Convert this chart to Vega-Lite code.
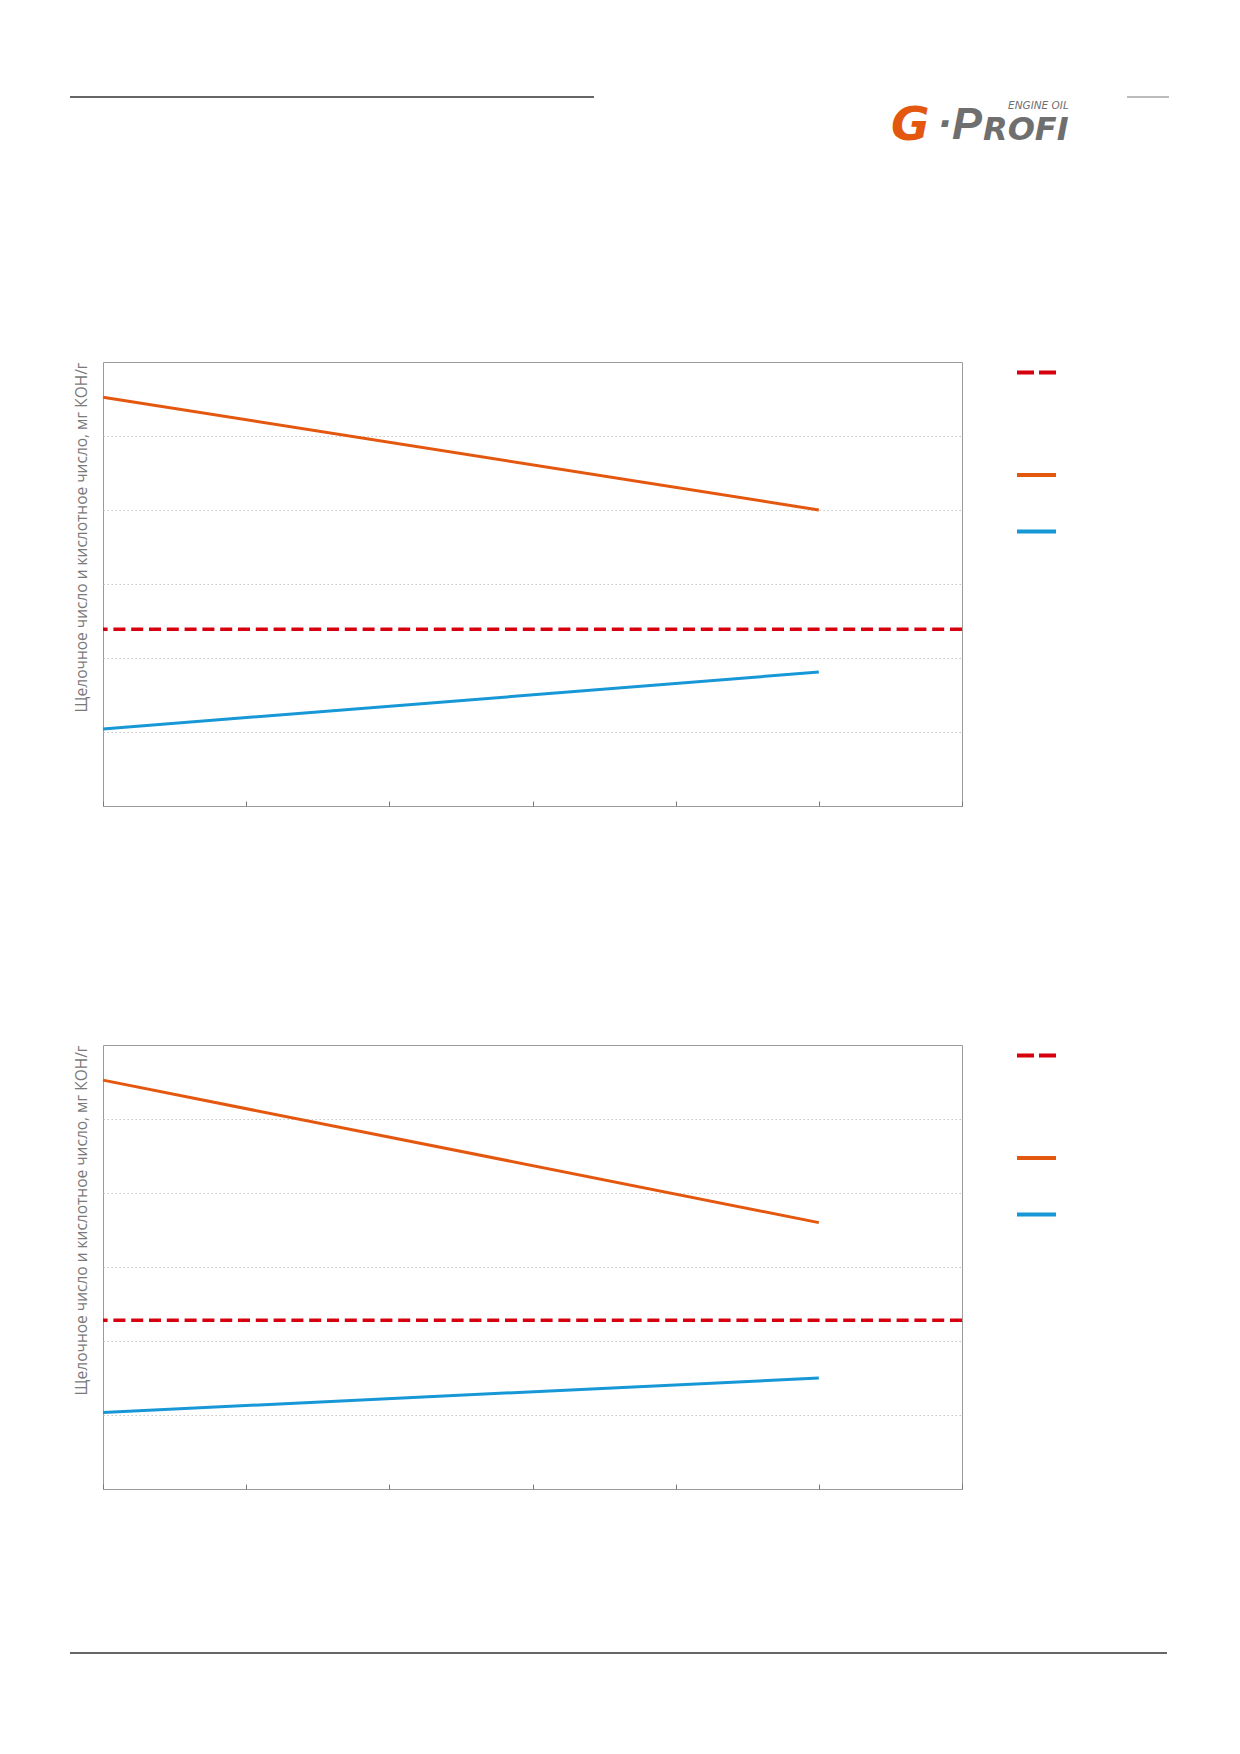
{
  "$schema": "https://vega.github.io/schema/vega-lite/v6.json",
  "padding": {"left": 69, "top": 90, "right": 0, "bottom": 0},
  "bounds": "flush",
  "spacing": 239,
  "resolve": {"legend": {"color": "independent"}},
  "config": {
    "background": "white",
    "font": "Open Sans",
    "view": {"stroke": null},
    "legend": {
      "orient": "none",
      "legendX": 912,
      "legendY": -11,
      "padding": 0,
      "title": null,
      "symbolType": "stroke",
      "symbolSize": 1521,
      "symbolStrokeWidth": 4,
      "rowPadding": 23.5,
      "labelFontSize": 12,
      "labelBaseline": "top",
      "labelColor": "white",
      "gridAlign": "each"
    }
  },
  "datasets": {
    "lines": [
      {"chart": 1, "series": "Щелочное число", "x": 0, "y": 11.05},
      {"chart": 1, "series": "Щелочное число", "x": 5, "y": 8.0},
      {"chart": 1, "series": "Кислотное число", "x": 0, "y": 2.08},
      {"chart": 1, "series": "Кислотное число", "x": 5, "y": 3.62},
      {"chart": 2, "series": "Щелочное число", "x": 0, "y": 11.05},
      {"chart": 2, "series": "Щелочное число", "x": 5, "y": 7.2},
      {"chart": 2, "series": "Кислотное число", "x": 0, "y": 2.07},
      {"chart": 2, "series": "Кислотное число", "x": 5, "y": 3.0}
    ],
    "limits": [
      {"chart": 1, "series": "Предел", "y": 4.78},
      {"chart": 2, "series": "Предел", "y": 4.56}
    ]
  },
  "vconcat": [
    {
      "width": 859,
      "height": 33,
      "data": {"values": [{}]},
      "layer": [
        {
          "mark": {"type": "rule", "color": "#666666", "strokeWidth": 2},
          "encoding": {
            "x": {"datum": 70, "type": "quantitative", "scale": {"domain": [103, 962], "nice": false, "zero": false}, "axis": null},
            "x2": {"datum": 594},
            "y": {"datum": 97, "type": "quantitative", "scale": {"domain": [90, 123], "nice": false, "zero": false, "reverse": true}, "axis": null}
          }
        },
        {
          "mark": {"type": "rule", "color": "#a6a6a6", "strokeWidth": 1.5},
          "encoding": {
            "x": {"datum": 1127, "type": "quantitative"},
            "x2": {"datum": 1169},
            "y": {"datum": 97, "type": "quantitative"}
          }
        },
        {
          "mark": {"type": "text", "text": "G", "font": "DejaVu Sans", "fontSize": 47, "fontStyle": "italic", "fontWeight": "bold", "color": "#e4570f", "align": "left", "baseline": "alphabetic"},
          "encoding": {
            "x": {"datum": 891, "type": "quantitative"},
            "y": {"datum": 140, "type": "quantitative"}
          }
        },
        {
          "mark": {"type": "text", "text": "·P", "font": "Liberation Sans", "fontSize": 45, "fontStyle": "italic", "fontWeight": "bold", "color": "#6f6f6f", "align": "left", "baseline": "alphabetic"},
          "encoding": {
            "x": {"datum": 937, "type": "quantitative"},
            "y": {"datum": 139, "type": "quantitative"}
          }
        },
        {
          "mark": {"type": "text", "text": "ROFI", "font": "DejaVu Sans", "fontSize": 32, "fontStyle": "italic", "fontWeight": "bold", "color": "#6f6f6f", "align": "left", "baseline": "alphabetic"},
          "encoding": {
            "x": {"datum": 983, "type": "quantitative"},
            "y": {"datum": 140, "type": "quantitative"}
          }
        },
        {
          "mark": {"type": "text", "text": "ENGINE OIL", "font": "DejaVu Sans", "fontSize": 10.5, "fontStyle": "italic", "color": "#6f6f6f", "align": "left", "baseline": "alphabetic"},
          "encoding": {
            "x": {"datum": 1008, "type": "quantitative"},
            "y": {"datum": 109, "type": "quantitative"}
          }
        }
      ]
    },
    {
      "width": 859,
      "height": 444,
      "view": {"stroke": "#9a9a9a", "strokeWidth": 1},
      "encoding": {
        "y": {
          "field": "y", "type": "quantitative",
          "scale": {"domain": [0, 12]},
          "axis": {"values": [2, 4, 6, 8, 10], "labels": false, "ticks": false, "domain": false, "grid": true, "gridDash": [1.5, 2.5], "gridColor": "#c8c8c8", "title": "Щелочное число и кислотное число, мг КОН/г", "titleAnchor": "end", "titleColor": "#7a7a7a", "titleFontSize": 15.5, "titleFontWeight": "normal", "titlePadding": 13.5}
        },
        "color": {
          "field": "series", "type": "nominal",
          "scale": {"domain": ["Предел", "Щелочное число", "Кислотное число"], "range": ["#d7000f", "#e4570f", "#1797d6"]},
          "legend": {
            "labelExpr": "datum.label == 'Предел' ? [' ', ' ', ' ', ' '] : [' ']",
            "encode": {
              "symbols": {"update": {"strokeDash": {"signal": "datum.value == 'Предел' ? [17, 5] : [1, 0]"}}},
              "labels": {"update": {"lineHeight": {"signal": "datum.value == 'Предел' ? 15.4 : 12"}}}
            }
          }
        }
      },
      "layer": [
        {
          "data": {"name": "lines"},
          "transform": [{"filter": "datum.chart == 1"}],
          "mark": {"type": "line", "strokeWidth": 3},
          "encoding": {
            "x": {
              "field": "x", "type": "quantitative",
              "scale": {"domain": [0, 6]},
              "axis": {"values": [0, 1, 2, 3, 4, 5, 6], "labels": false, "tickSize": -5, "tickColor": "#7a7a7a", "domain": false, "grid": false, "title": null}
            }
          }
        },
        {
          "data": {"name": "limits"},
          "transform": [{"filter": "datum.chart == 1"}],
          "mark": {"type": "rule", "strokeWidth": 3.5, "strokeDash": [12, 5.8]}
        }
      ]
    },
    {
      "width": 859,
      "height": 444,
      "view": {"stroke": "#9a9a9a", "strokeWidth": 1},
      "encoding": {
        "y": {
          "field": "y", "type": "quantitative",
          "scale": {"domain": [0, 12]},
          "axis": {"values": [2, 4, 6, 8, 10], "labels": false, "ticks": false, "domain": false, "grid": true, "gridDash": [1.5, 2.5], "gridColor": "#c8c8c8", "title": "Щелочное число и кислотное число, мг КОН/г", "titleAnchor": "end", "titleColor": "#7a7a7a", "titleFontSize": 15.5, "titleFontWeight": "normal", "titlePadding": 13.5}
        },
        "color": {
          "field": "series", "type": "nominal",
          "scale": {"domain": ["Предел", "Щелочное число", "Кислотное число"], "range": ["#d7000f", "#e4570f", "#1797d6"]},
          "legend": {
            "labelExpr": "datum.label == 'Предел' ? [' ', ' ', ' ', ' '] : [' ']",
            "encode": {
              "symbols": {"update": {"strokeDash": {"signal": "datum.value == 'Предел' ? [17, 5] : [1, 0]"}}},
              "labels": {"update": {"lineHeight": {"signal": "datum.value == 'Предел' ? 15.4 : 12"}}}
            }
          }
        }
      },
      "layer": [
        {
          "data": {"name": "lines"},
          "transform": [{"filter": "datum.chart == 2"}],
          "mark": {"type": "line", "strokeWidth": 3},
          "encoding": {
            "x": {
              "field": "x", "type": "quantitative",
              "scale": {"domain": [0, 6]},
              "axis": {"values": [0, 1, 2, 3, 4, 5, 6], "labels": false, "tickSize": -5, "tickColor": "#7a7a7a", "domain": false, "grid": false, "title": null}
            }
          }
        },
        {
          "data": {"name": "limits"},
          "transform": [{"filter": "datum.chart == 2"}],
          "mark": {"type": "rule", "strokeWidth": 3.5, "strokeDash": [12, 5.8]}
        }
      ]
    },
    {
      "width": 859,
      "height": 10,
      "data": {"values": [{}]},
      "mark": {"type": "rule", "color": "#666666", "strokeWidth": 2},
      "encoding": {
        "x": {"datum": 70, "type": "quantitative", "scale": {"domain": [103, 962], "nice": false, "zero": false}, "axis": null},
        "x2": {"datum": 1167},
        "y": {"datum": 1653, "type": "quantitative", "scale": {"domain": [1728, 1738], "nice": false, "zero": false, "reverse": true}, "axis": null}
      }
    }
  ]
}
